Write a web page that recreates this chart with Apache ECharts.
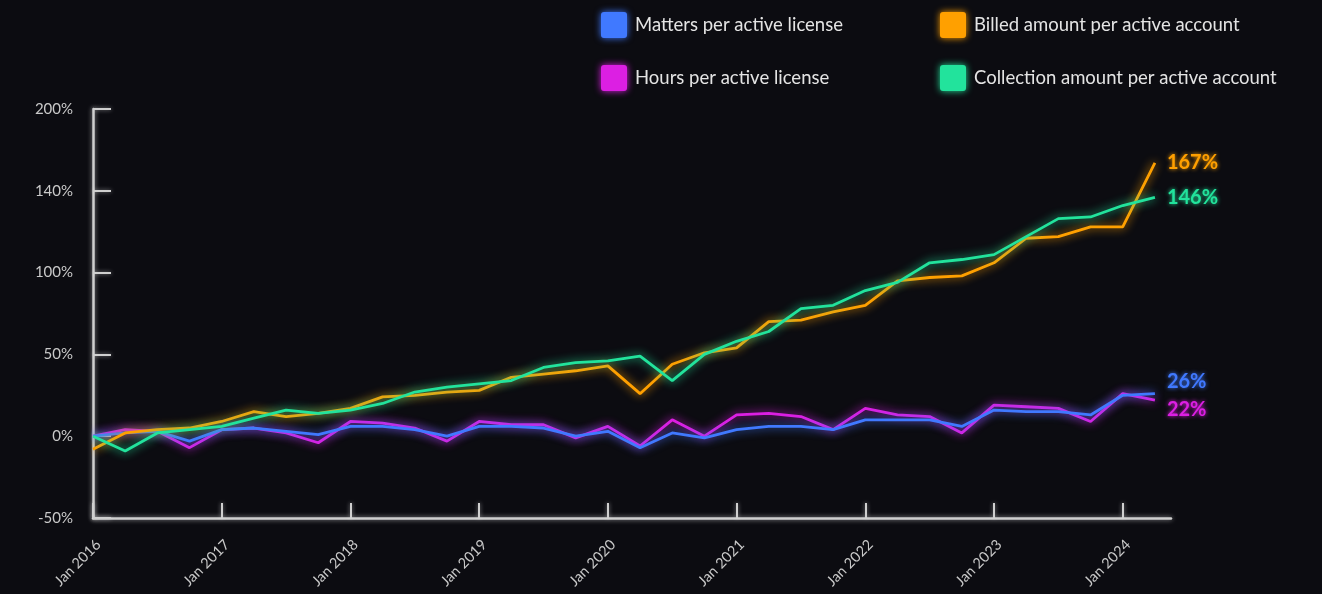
<!DOCTYPE html>
<html>
<head>
<meta charset="utf-8">
<script src="https://cdn.jsdelivr.net/npm/echarts@6/dist/echarts.min.js"></script>
<style>
  html, body { margin: 0; padding: 0; background: #0c0c11; }
  #chart { width: 1322px; height: 594px; }
</style>
</head>
<body>
<div id="chart"></div>
<script>
// Quarterly % change since Jan 2016
const quarters = [
  'Jan 2016','Apr 2016','Jul 2016','Oct 2016','Jan 2017','Apr 2017','Jul 2017','Oct 2017',
  'Jan 2018','Apr 2018','Jul 2018','Oct 2018','Jan 2019','Apr 2019','Jul 2019','Oct 2019',
  'Jan 2020','Apr 2020','Jul 2020','Oct 2020','Jan 2021','Apr 2021','Jul 2021','Oct 2021',
  'Jan 2022','Apr 2022','Jul 2022','Oct 2022','Jan 2023','Apr 2023','Jul 2023','Oct 2023',
  'Jan 2024','Apr 2024'
];
const matters = [0, 2, 3, -3, 4, 5, 3, 1, 6, 6, 4, 0, 6, 6, 5, 0, 3, -7, 2, -1, 4, 6, 6, 4, 10, 10, 10, 6, 16, 15, 15, 13, 25, 26];
const hours = [0, 4, 3, -7, 4, 5, 2, -4, 9, 8, 5, -3, 9, 7, 7, -1, 6, -6, 10, 0, 13, 14, 12, 4, 17, 13, 12, 2, 19, 18, 17, 9, 26, 22];
const billed = [-8, 2, 4, 5, 9, 15, 12, 14, 17, 24, 25, 27, 28, 36, 38, 40, 43, 26, 44, 51, 54, 70, 71, 76, 80, 95, 97, 98, 106, 121, 122, 128, 128, 167];
const collection = [0, -9, 2, 4, 6, 11, 16, 14, 16, 20, 27, 30, 32, 34, 42, 45, 46, 49, 34, 50, 58, 64, 78, 80, 89, 94, 106, 108, 111, 122, 133, 134, 141, 146];

const yTickValues = [-50, 0, 50, 100, 150, 200];
const yTickLabels = ['-50%', '0%', '50%', '100%', '140%', '200%'];
const xTickValues = [0, 4, 8, 12, 16, 20, 24, 28, 32];

const names = {
  matters: 'Matters per active license',
  hours: 'Hours per active license',
  billed: 'Billed amount per active account',
  collection: 'Collection amount per active account'
};
const colors = {
  matters: '#4079ff',
  hours: '#dc1fe3',
  billed: '#ffa000',
  collection: '#22e39c'
};

const FONT = 'Lato, "Noto Sans", sans-serif';
const axisGrey = '#cfcfcf';

function lineSeries(key, values, labelOffset) {
  return {
    name: names[key],
    type: 'line',
    data: values.map((v, i) => [i, v]),
    symbol: 'none',
    lineStyle: {
      color: colors[key],
      width: 2.8,
      shadowBlur: 10,
      shadowColor: colors[key]
    },
    itemStyle: { color: colors[key] },
    emphasis: { disabled: true },
    endLabel: {
      show: true,
      formatter: p => p.value[1] + '%',
      color: colors[key],
      fontFamily: FONT,
      fontWeight: 'bold',
      fontSize: 20,
      distance: 12,
      offset: labelOffset,
      textShadowBlur: 4,
      textShadowColor: colors[key]
    }
  };
}

function legendItem(key, left, top) {
  return {
    data: [names[key]],
    left: left,
    top: top,
    icon: 'path://M3,0 L23,0 Q26,0 26,3 L26,23 Q26,26 23,26 L3,26 Q0,26 0,23 L0,3 Q0,0 3,0 Z',
    itemWidth: 26,
    itemHeight: 26,
    itemStyle: { shadowBlur: 7, shadowColor: colors[key] },
    textStyle: {
      color: '#e4e4e4',
      fontFamily: FONT,
      fontSize: 18.5,
      padding: [0, 0, 0, 3]
    },
    selectedMode: false
  };
}

const chart = echarts.init(document.getElementById('chart'), null, { renderer: 'canvas' });

chart.setOption({
  backgroundColor: '#0c0c11',
  animation: false,
  legend: [
    legendItem('matters', 596, 7),
    legendItem('billed', 935, 7),
    legendItem('hours', 596, 60),
    legendItem('collection', 935, 60)
  ],
  grid: {
    left: 93,
    right: 151,
    top: 109,
    bottom: 76,
    containLabel: false,
    outerBoundsMode: 'none'
  },
  xAxis: {
    type: 'value',
    min: 0,
    max: 33.5,
    interval: 4,
    splitLine: { show: false },
    axisLine: {
      show: true,
      onZero: false,
      lineStyle: { color: axisGrey, width: 2.5, shadowBlur: 5, shadowColor: 'rgba(255,255,255,0.6)' }
    },
    axisTick: {
      show: true,
      inside: true,
      length: 15,
      customValues: xTickValues,
      lineStyle: { color: axisGrey, width: 2, shadowBlur: 4, shadowColor: 'rgba(255,255,255,0.5)' }
    },
    axisLabel: {
      customValues: xTickValues,
      rotate: 45,
      margin: 19,
      verticalAlign: 'top',
      lineHeight: 15,
      color: '#c9c9c9',
      fontFamily: FONT,
      fontSize: 14.5,
      formatter: v => (v % 4 === 0 ? quarters[v] : '')
    }
  },
  yAxis: {
    type: 'value',
    min: -50,
    max: 200,
    interval: 50,
    splitLine: { show: false },
    axisLine: {
      show: true,
      lineStyle: { color: axisGrey, width: 2.5, shadowBlur: 5, shadowColor: 'rgba(255,255,255,0.6)' }
    },
    axisTick: {
      show: true,
      inside: true,
      length: 18,
      lineStyle: { color: axisGrey, width: 2, shadowBlur: 4, shadowColor: 'rgba(255,255,255,0.5)' }
    },
    axisLabel: {
      margin: 20,
      color: '#c9c9c9',
      fontFamily: FONT,
      fontSize: 15,
      formatter: v => {
        const idx = yTickValues.indexOf(v);
        return idx >= 0 ? yTickLabels[idx] : '';
      }
    }
  },
  series: [
    lineSeries('hours', hours, [0, 9]),
    lineSeries('matters', matters, [0, -12]),
    lineSeries('billed', billed, [0, 0]),
    lineSeries('collection', collection, [0, 0])
  ]
});
</script>
</body>
</html>
